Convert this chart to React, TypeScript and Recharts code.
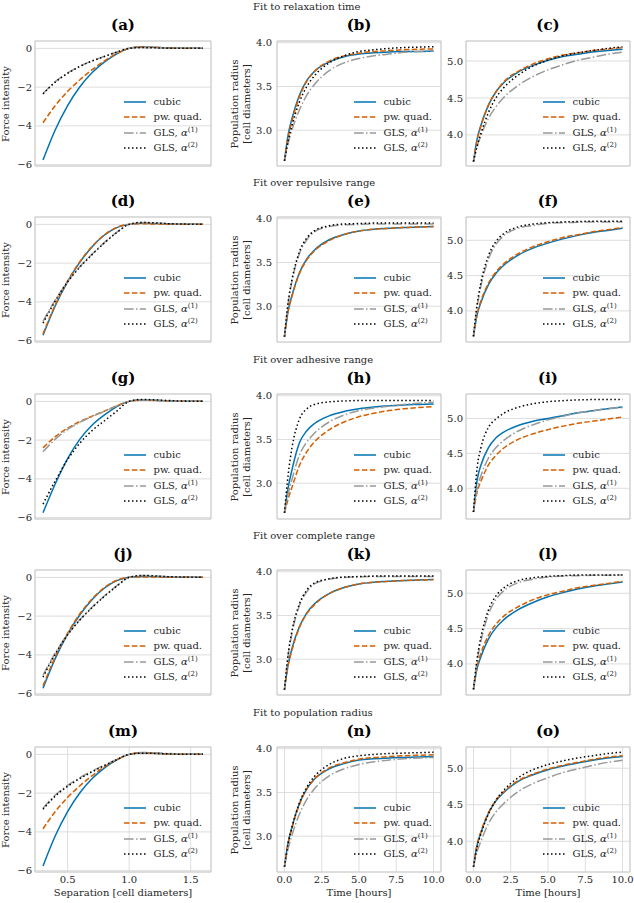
import React from 'react';
import { LineChart, Line, XAxis, YAxis, CartesianGrid, Legend, ReferenceArea } from 'recharts';

// x grids: separation for the force panels, time for the radius panels
const separation = [0.3, 0.4, 0.5, 0.6, 0.7, 0.8, 0.9, 1.0, 1.1, 1.2, 1.3, 1.4, 1.5, 1.6];
const hours = [0, 0.25, 0.5, 1, 1.5, 2, 3, 4, 5, 6, 7, 8, 9, 10];

const sectionTitles = [
  'Fit to relaxation time',
  'Fit over repulsive range',
  'Fit over adhesive range',
  'Fit over complete range',
  'Fit to population radius',
];
const panelLetters = ['a', 'b', 'c', 'd', 'e', 'f', 'g', 'h', 'i', 'j', 'k', 'l', 'm', 'n', 'o'];

const sepTicks = [0.5, 1.0, 1.5];
const hourTicks = [0, 2.5, 5, 7.5, 10];
const forceTicks = [-6, -4, -2, 0];
const radiusTicks = [3.0, 3.5, 4.0];
const radiusWideTicks = [4.0, 4.5, 5.0];

// row 1: fit to relaxation time
const A = {
  cubic: [-5.76, -4.2, -2.95, -1.98, -1.25, -0.7, -0.28, 0.0, 0.07, 0.06, 0.03, 0.01, 0.0, 0.0],
  quad: [-3.84, -2.95, -2.22, -1.62, -1.1, -0.64, -0.27, 0.0, 0.08, 0.05, 0.02, 0.01, 0.0, 0.0],
  gls1: [-2.33, -1.72, -1.27, -0.92, -0.64, -0.41, -0.19, 0.0, 0.05, 0.04, 0.02, 0.01, 0.0, 0.0],
  gls2: [-2.35, -1.74, -1.29, -0.93, -0.65, -0.42, -0.19, 0.0, 0.04, 0.03, 0.01, 0.0, 0.0, 0.0],
};
const B = {
  cubic: [2.65, 2.95, 3.13, 3.4, 3.57, 3.67, 3.78, 3.84, 3.87, 3.885, 3.895, 3.9, 3.9, 3.905],
  quad: [2.65, 2.92, 3.1, 3.38, 3.56, 3.67, 3.79, 3.85, 3.88, 3.9, 3.91, 3.92, 3.925, 3.93],
  gls1: [2.65, 2.85, 3.0, 3.23, 3.4, 3.52, 3.68, 3.77, 3.82, 3.85, 3.87, 3.89, 3.9, 3.91],
  gls2: [2.65, 2.88, 3.05, 3.32, 3.5, 3.62, 3.77, 3.85, 3.9, 3.92, 3.935, 3.945, 3.95, 3.955],
};
const C = {
  cubic: [3.64, 3.95, 4.13, 4.4, 4.58, 4.7, 4.85, 4.94, 5.01, 5.06, 5.09, 5.12, 5.14, 5.16],
  quad: [3.64, 3.93, 4.12, 4.4, 4.58, 4.71, 4.86, 4.96, 5.03, 5.08, 5.11, 5.14, 5.16, 5.18],
  gls1: [3.64, 3.85, 3.99, 4.22, 4.38, 4.5, 4.67, 4.79, 4.88, 4.95, 5.01, 5.05, 5.09, 5.12],
  gls2: [3.64, 3.85, 4.02, 4.3, 4.5, 4.63, 4.81, 4.93, 5.01, 5.07, 5.11, 5.14, 5.17, 5.19],
};

// row 2: fit over repulsive range
const D = {
  cubic: [-5.72, -4.2, -2.95, -1.95, -1.15, -0.55, -0.17, 0.0, 0.06, 0.05, 0.03, 0.01, 0.0, 0.0],
  quad: [-5.65, -4.15, -2.92, -1.92, -1.13, -0.53, -0.15, 0.0, 0.03, 0.02, 0.01, 0.0, 0.0, 0.0],
  gls1: [-5.0, -3.9, -2.95, -2.18, -1.53, -0.93, -0.4, 0.0, 0.09, 0.07, 0.04, 0.02, 0.01, 0.0],
  gls2: [-5.1, -3.95, -2.97, -2.2, -1.55, -0.95, -0.42, 0.0, 0.1, 0.08, 0.04, 0.02, 0.01, 0.0],
};
const E = {
  cubic: [2.65, 2.95, 3.12, 3.38, 3.54, 3.64, 3.76, 3.82, 3.86, 3.88, 3.89, 3.9, 3.905, 3.91],
  quad: [2.65, 2.94, 3.11, 3.37, 3.53, 3.63, 3.75, 3.82, 3.86, 3.88, 3.89, 3.9, 3.905, 3.91],
  gls1: [2.65, 3.03, 3.28, 3.6, 3.76, 3.85, 3.91, 3.93, 3.935, 3.94, 3.94, 3.94, 3.94, 3.94],
  gls2: [2.65, 3.05, 3.3, 3.62, 3.78, 3.86, 3.92, 3.94, 3.945, 3.95, 3.95, 3.95, 3.95, 3.95],
};
const F = {
  cubic: [3.64, 3.95, 4.12, 4.37, 4.53, 4.64, 4.79, 4.89, 4.96, 5.02, 5.07, 5.11, 5.14, 5.17],
  quad: [3.64, 3.96, 4.14, 4.39, 4.55, 4.66, 4.81, 4.91, 4.98, 5.04, 5.08, 5.12, 5.15, 5.18],
  gls1: [3.64, 4.06, 4.35, 4.73, 4.94, 5.06, 5.17, 5.21, 5.24, 5.25, 5.255, 5.26, 5.26, 5.26],
  gls2: [3.64, 4.1, 4.4, 4.78, 4.98, 5.09, 5.19, 5.23, 5.25, 5.26, 5.265, 5.27, 5.27, 5.27],
};

// row 3: fit over adhesive range
const G = {
  cubic: [-5.75, -4.25, -2.95, -1.95, -1.22, -0.7, -0.27, 0.0, 0.07, 0.06, 0.03, 0.01, 0.0, 0.0],
  quad: [-2.4, -1.82, -1.38, -1.04, -0.76, -0.5, -0.23, 0.0, 0.06, 0.05, 0.03, 0.01, 0.0, 0.0],
  gls1: [-2.6, -1.95, -1.45, -1.08, -0.78, -0.51, -0.23, 0.0, 0.07, 0.05, 0.03, 0.01, 0.0, 0.0],
  gls2: [-5.3, -4.1, -3.0, -2.15, -1.5, -1.0, -0.5, 0.0, 0.1, 0.08, 0.05, 0.02, 0.01, 0.0],
};
const H = {
  cubic: [2.66, 2.95, 3.15, 3.46, 3.6, 3.68, 3.77, 3.82, 3.85, 3.87, 3.885, 3.895, 3.9, 3.905],
  quad: [2.66, 2.82, 2.95, 3.2, 3.36, 3.47, 3.61, 3.7, 3.76, 3.8, 3.83, 3.85, 3.865, 3.875],
  gls1: [2.66, 2.88, 3.04, 3.32, 3.47, 3.57, 3.7, 3.78, 3.83, 3.86, 3.88, 3.9, 3.915, 3.925],
  gls2: [2.66, 3.1, 3.4, 3.73, 3.85, 3.9, 3.93, 3.94, 3.945, 3.945, 3.945, 3.945, 3.945, 3.945],
};
const I = {
  cubic: [3.66, 4.12, 4.33, 4.58, 4.72, 4.8, 4.9, 4.96, 5.0, 5.04, 5.08, 5.11, 5.14, 5.165],
  quad: [3.66, 3.95, 4.1, 4.33, 4.47, 4.57, 4.7, 4.78, 4.84, 4.89, 4.93, 4.96, 4.99, 5.02],
  gls1: [3.66, 4.0, 4.18, 4.43, 4.58, 4.68, 4.82, 4.91, 4.98, 5.03, 5.08, 5.11, 5.14, 5.155],
  gls2: [3.66, 4.3, 4.58, 4.87, 4.99, 5.07, 5.16, 5.21, 5.24, 5.255, 5.265, 5.27, 5.27, 5.27],
};

// row 4: fit over complete range
const J = {
  cubic: [-5.72, -4.18, -2.93, -1.93, -1.14, -0.55, -0.17, 0.0, 0.05, 0.04, 0.02, 0.01, 0.0, 0.0],
  quad: [-5.6, -4.1, -2.88, -1.88, -1.1, -0.52, -0.15, 0.0, 0.02, 0.02, 0.01, 0.0, 0.0, 0.0],
  gls1: [-5.05, -3.9, -2.95, -2.18, -1.53, -0.95, -0.43, 0.0, 0.09, 0.07, 0.04, 0.02, 0.01, 0.0],
  gls2: [-5.15, -3.95, -2.97, -2.2, -1.55, -0.97, -0.45, 0.0, 0.1, 0.08, 0.04, 0.02, 0.01, 0.0],
};
const K = {
  cubic: [2.65, 2.94, 3.12, 3.37, 3.53, 3.63, 3.75, 3.82, 3.86, 3.88, 3.89, 3.9, 3.905, 3.91],
  quad: [2.65, 2.93, 3.1, 3.36, 3.52, 3.62, 3.75, 3.82, 3.86, 3.88, 3.89, 3.9, 3.905, 3.91],
  gls1: [2.65, 3.04, 3.29, 3.61, 3.77, 3.86, 3.915, 3.935, 3.94, 3.945, 3.945, 3.945, 3.945, 3.945],
  gls2: [2.65, 3.06, 3.32, 3.63, 3.79, 3.87, 3.92, 3.94, 3.945, 3.95, 3.95, 3.95, 3.95, 3.95],
};
const L = {
  cubic: [3.64, 3.94, 4.1, 4.35, 4.51, 4.62, 4.77, 4.87, 4.95, 5.01, 5.06, 5.1, 5.13, 5.16],
  quad: [3.64, 3.97, 4.15, 4.4, 4.56, 4.67, 4.81, 4.91, 4.98, 5.03, 5.08, 5.11, 5.14, 5.17],
  gls1: [3.64, 4.04, 4.32, 4.7, 4.91, 5.03, 5.15, 5.2, 5.23, 5.245, 5.25, 5.255, 5.255, 5.26],
  gls2: [3.64, 4.08, 4.38, 4.76, 4.96, 5.07, 5.18, 5.22, 5.24, 5.25, 5.26, 5.26, 5.26, 5.26],
};

// row 5: fit to population radius
const M = {
  cubic: [-5.76, -4.2, -2.95, -1.98, -1.25, -0.7, -0.28, 0.0, 0.07, 0.06, 0.03, 0.01, 0.0, 0.0],
  quad: [-3.84, -2.95, -2.22, -1.62, -1.1, -0.64, -0.27, 0.0, 0.08, 0.05, 0.02, 0.01, 0.0, 0.0],
  gls1: [-2.78, -2.1, -1.6, -1.2, -0.86, -0.55, -0.25, 0.0, 0.1, 0.08, 0.05, 0.02, 0.01, 0.0],
  gls2: [-2.83, -2.15, -1.65, -1.25, -0.9, -0.58, -0.27, 0.0, 0.06, 0.05, 0.03, 0.01, 0.0, 0.0],
};
const N = {
  cubic: [2.65, 2.93, 3.1, 3.37, 3.54, 3.65, 3.77, 3.83, 3.87, 3.885, 3.895, 3.9, 3.905, 3.91],
  quad: [2.65, 2.92, 3.09, 3.36, 3.54, 3.65, 3.78, 3.84, 3.88, 3.9, 3.91, 3.92, 3.925, 3.93],
  gls1: [2.65, 2.86, 3.01, 3.25, 3.42, 3.54, 3.69, 3.77, 3.82, 3.85, 3.87, 3.885, 3.895, 3.9],
  gls2: [2.65, 2.92, 3.1, 3.38, 3.56, 3.68, 3.82, 3.89, 3.92, 3.935, 3.945, 3.95, 3.955, 3.96],
};
const O = {
  cubic: [3.65, 3.95, 4.12, 4.38, 4.55, 4.66, 4.82, 4.91, 4.98, 5.03, 5.07, 5.11, 5.14, 5.16],
  quad: [3.65, 3.96, 4.13, 4.39, 4.56, 4.67, 4.83, 4.92, 4.99, 5.04, 5.08, 5.12, 5.15, 5.17],
  gls1: [3.65, 3.86, 4.0, 4.24, 4.4, 4.51, 4.68, 4.79, 4.87, 4.94, 4.99, 5.04, 5.08, 5.11],
  gls2: [3.65, 3.93, 4.1, 4.37, 4.56, 4.69, 4.87, 4.98, 5.05, 5.1, 5.14, 5.17, 5.2, 5.22],
};

const panels = [
  [A, B, C],
  [D, E, F],
  [G, H, I],
  [J, K, L],
  [M, N, O],
];

const SEP_DOMAIN = [0.235, 1.665];
const HOUR_DOMAIN = [-0.5, 10.5];
const FORCE_DOMAIN = [-6.07, 0.38];
const RADIUS_DOMAIN = [2.59, 4.02];
const wideDomains = [
  [3.58, 5.27],
  [3.56, 5.33],
  [3.56, 5.35],
  [3.56, 5.33],
  [3.58, 5.29],
];

// layout of the 5x3 grid (pixels)
const COLS = [
  { left: 35, width: 176, tickGap: 3 },
  { left: 277, width: 164, tickGap: 5 },
  { left: 466, width: 164, tickGap: 3 },
];
const ROW_TOPS = [41, 217, 394, 570, 747];
const PLOT_H = 125;
const YW = 30;
const XH = 24;
const PAD = 8;
const RPAD = 14;

const FONT = '"DejaVu Serif", serif';
const INK = '#262626';

const Sup = ({ n }: { n: number }) => (
  <span style={{ fontSize: 7, position: 'relative', top: -4, color: INK }}>({n})</span>
);

const series = [
  { key: 'cubic', color: '#0173b2', dash: undefined, label: <>cubic</> },
  { key: 'quad', color: '#d55e00', dash: '5.5 2.4', label: <>pw. quad.</> },
  {
    key: 'gls1',
    color: '#999999',
    dash: '9.6 2.4 1.5 2.4',
    label: (
      <>
        GLS, <i>α</i>
        <Sup n={1} />
      </>
    ),
  },
  {
    key: 'gls2',
    color: '#000000',
    dash: '1.5 2.5',
    label: (
      <>
        GLS, <i>α</i>
        <Sup n={2} />
      </>
    ),
  },
];

const minusFmt = (v: number) => (v < 0 ? `\u2212${Math.abs(v)}` : String(v));
const oneDec = (v: number) => v.toFixed(1);

const tickStyle = { fontSize: 10, fill: INK, fontFamily: FONT };

const LegendBox = () => (
  <div style={{ fontFamily: FONT, fontSize: 10, color: INK, lineHeight: 1 }}>
    {series.map((s) => (
      <div key={s.key} style={{ display: 'flex', alignItems: 'center', height: 15.5 }}>
        <svg width={22} height={6} style={{ flex: 'none' }}>
          <line x1={0} y1={3} x2={22} y2={3} stroke={s.color} strokeWidth={1.5} strokeDasharray={s.dash} />
        </svg>
        <span style={{ marginLeft: 7, whiteSpace: 'nowrap' }}>{s.label}</span>
      </div>
    ))}
  </div>
);

const Panel = ({ row, col }: { row: number; col: number }) => {
  const p: any = panels[row][col];
  const xs = col === 0 ? separation : hours;
  const data = xs.map((x, i) => ({
    x,
    cubic: p.cubic[i],
    quad: p.quad[i],
    gls1: p.gls1[i],
    gls2: p.gls2[i],
  }));
  const { left, width, tickGap } = COLS[col];
  const top = ROW_TOPS[row];
  const last = row === ROW_TOPS.length - 1;
  const xh = last ? XH : 0;
  const bottomPad = last ? 0 : PAD;
  const xDomain = col === 0 ? SEP_DOMAIN : HOUR_DOMAIN;
  const xTicks = col === 0 ? sepTicks : hourTicks;
  const yDomain = col === 0 ? FORCE_DOMAIN : col === 1 ? RADIUS_DOMAIN : wideDomains[row];
  const yTicks = col === 0 ? forceTicks : col === 1 ? radiusTicks : radiusWideTicks;

  return (
    <div style={{ position: 'absolute', left: left - YW, top: top - PAD }}>
      <LineChart
        width={width + YW + RPAD}
        height={PLOT_H + xh + PAD + bottomPad}
        data={data}
        margin={{ top: PAD, right: RPAD, bottom: bottomPad, left: 0 }}
      >
        <CartesianGrid stroke="#dddddd" strokeWidth={1} />
        <XAxis
          type="number"
          dataKey="x"
          domain={xDomain}
          ticks={xTicks}
          allowDataOverflow
          interval={0}
          height={xh}
          axisLine={false}
          tickLine={false}
          tickSize={0}
          tickMargin={4}
          tick={last ? tickStyle : false}
          tickFormatter={oneDec}
        />
        <YAxis
          type="number"
          domain={yDomain}
          ticks={yTicks}
          allowDataOverflow
          interval={0}
          width={YW}
          axisLine={false}
          tickLine={false}
          tickSize={0}
          tickMargin={tickGap}
          tick={tickStyle}
          tickFormatter={col === 0 ? minusFmt : oneDec}
        />
        <ReferenceArea
          x1={xDomain[0]}
          x2={xDomain[1]}
          y1={yDomain[0]}
          y2={yDomain[1]}
          fill="none"
          stroke="#cccccc"
          strokeWidth={1}
          ifOverflow="visible"
        />
        {series.map((s) => (
          <Line
            key={s.key}
            dataKey={s.key}
            type="monotone"
            stroke={s.color}
            strokeWidth={1.5}
            strokeDasharray={s.dash}
            dot={false}
            activeDot={false}
            isAnimationActive={false}
          />
        ))}
        <Legend
          layout="vertical"
          align="center"
          verticalAlign="middle"
          content={<LegendBox />}
          wrapperStyle={{
            right: 9 + RPAD,
            bottom: 10 + xh + bottomPad,
            left: 'auto',
            top: 'auto',
            width: 'auto',
            height: 'auto',
          }}
        />
      </LineChart>
    </div>
  );
};

const Text = ({
  x,
  y,
  children,
  size = 10,
  bold = false,
  rotate = false,
  anchor = 'center',
}: {
  x: number;
  y: number;
  children: React.ReactNode;
  size?: number;
  bold?: boolean;
  rotate?: boolean;
  anchor?: 'center' | 'start';
}) => (
  <div
    style={{
      position: 'absolute',
      left: x,
      top: y,
      transform: `translate(${anchor === 'center' ? '-50%' : '0'}, -50%)${rotate ? ' rotate(-90deg)' : ''}`,
      fontFamily: FONT,
      fontSize: size,
      fontWeight: bold ? 700 : 400,
      color: bold ? '#000' : INK,
      whiteSpace: 'nowrap',
      lineHeight: 1.15,
      textAlign: 'center',
    }}
  >
    {children}
  </div>
);

export default function App() {
  return (
    <div style={{ position: 'absolute', left: 0, top: 0, width: 634, height: 903, background: '#fff', overflow: 'hidden' }}>
      {ROW_TOPS.map((top, r) => (
        <React.Fragment key={r}>
          <Text x={253} y={top - 34.5} anchor="start">
            {sectionTitles[r]}
          </Text>
          {COLS.map((c, ci) => (
            <React.Fragment key={ci}>
              <Text x={c.left + c.width / 2} y={top - 15} size={15} bold>
                ({panelLetters[r * 3 + ci]})
              </Text>
              <Panel row={r} col={ci} />
            </React.Fragment>
          ))}
          <Text x={6} y={top + PLOT_H / 2} rotate>
            Force intensity
          </Text>
          <Text x={240} y={top + PLOT_H / 2} rotate>
            Population radius
            <br />
            [cell diameters]
          </Text>
        </React.Fragment>
      ))}
      <Text x={COLS[0].left + COLS[0].width / 2} y={893}>
        Separation [cell diameters]
      </Text>
      <Text x={COLS[1].left + COLS[1].width / 2} y={893}>
        Time [hours]
      </Text>
      <Text x={COLS[2].left + COLS[2].width / 2} y={893}>
        Time [hours]
      </Text>
    </div>
  );
}
